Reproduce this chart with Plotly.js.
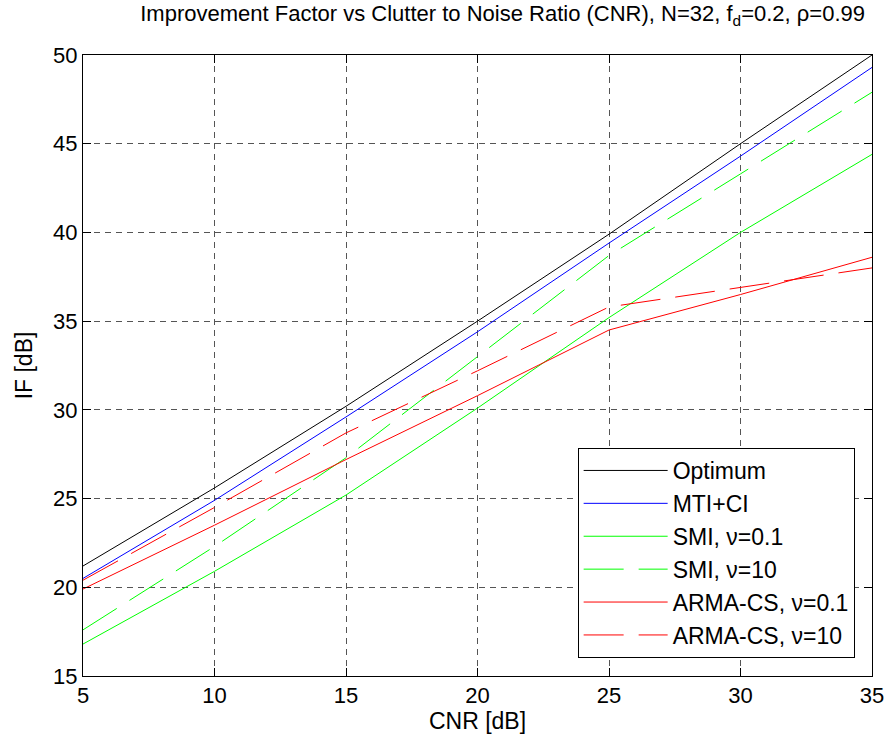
<!DOCTYPE html>
<html><head><meta charset="utf-8">
<script src="https://cdn.plot.ly/plotly-3.0.1.min.js"></script>
<style>body{margin:0;background:#fff}#c{width:888px;height:745px}</style>
</head><body><div id="c"></div>
<script>
const cnr = [5, 10, 15, 20, 25, 30, 35];
const optimum = [21.2, 25.6, 30.2, 35.0, 39.9, 45.0, 50.0];
const mtiCi = [20.5, 24.9, 29.6, 34.4, 39.4, 44.3, 49.3];
const smi01 = [16.8, 20.9, 25.2, 30.1, 35.2, 40.0, 44.4];
const smi10 = [17.6, 22.3, 27.3, 33.0, 38.7, 43.3, 47.9];
const arma01 = [19.9, 23.5, 27.2, 30.8, 34.5, 36.5, 38.6];
const arma10 = [20.4, 24.5, 28.7, 32.2, 35.8, 36.9, 38.0];
const names = ['Optimum', 'MTI+CI', 'SMI, \u03bd=0.1', 'SMI, \u03bd=10', 'ARMA-CS, \u03bd=0.1', 'ARMA-CS, \u03bd=10'];
const series = [optimum, mtiCi, smi01, smi10, arma01, arma10];
const colors = ['#000000', '#0000ff', '#00ff00', '#00ff00', '#ff0000', '#ff0000'];
const dashes = ['solid', 'solid', 'solid', '40px,15px', 'solid', '40px,15px'];
const traces = series.map((s, i) => ({
  x: cnr, y: s, type: 'scatter', mode: 'lines', name: names[i], legendgroup: 'g' + i,
  line: {color: colors[i], width: 1, dash: dashes[i]}
}));
const fam = 'Liberation Sans, Arial, sans-serif';
const layout = {
  width: 888, height: 745,
  margin: {l: 83, r: 16, t: 55, b: 69},
  paper_bgcolor: '#fff', plot_bgcolor: '#fff',
  font: {family: fam, size: 22, color: '#000'},
  title: {text: 'Improvement Factor vs Clutter to Noise Ratio (CNR), N=32, f<sub>d</sub>=0.2, \u03c1=0.99',
    font: {family: fam, size: 22, color: '#000'}, x: 0.566, xanchor: 'center', y: 0.992, yanchor: 'top'},
  xaxis: {range: [5, 35], tickvals: [5, 10, 15, 20, 25, 30, 35], ticks: 'inside', ticklen: 8, tickcolor: '#000',
    showline: true, linecolor: '#000', linewidth: 1, mirror: 'ticks', zeroline: false,
    showgrid: true, gridcolor: '#555', griddash: '6px,5px', gridwidth: 1,
    title: {text: 'CNR [dB]', font: {size: 23}, standoff: 4}, tickfont: {size: 22}},
  yaxis: {range: [15, 50], tickvals: [15, 20, 25, 30, 35, 40, 45, 50], ticks: 'inside', ticklen: 8, tickcolor: '#000',
    showline: true, linecolor: '#000', linewidth: 1, mirror: 'ticks', zeroline: false,
    showgrid: true, gridcolor: '#555', griddash: '6px,5px', gridwidth: 1,
    title: {text: 'IF [dB]', font: {size: 23}, standoff: 14}, tickfont: {size: 22}},
  showlegend: true,
  legend: {x: 0.978, y: 0.029, xanchor: 'right', yanchor: 'bottom', bgcolor: '#fff',
    bordercolor: '#000', borderwidth: 1, font: {size: 23}, itemwidth: 84, tracegroupgap: 8,
    traceorder: 'normal'}
};
Plotly.newPlot('c', traces, layout, {displayModeBar: false, staticPlot: true});
</script></body></html>
